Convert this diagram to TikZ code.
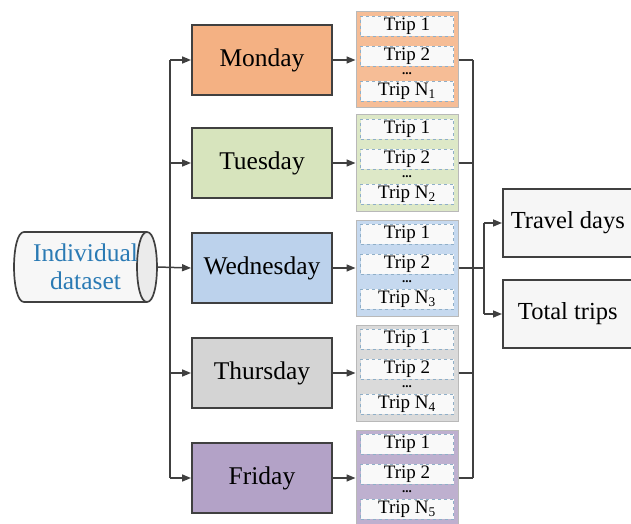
\documentclass[tikz,border=0pt]{standalone}
\usepackage{fontspec}
\setmainfont{Liberation Serif}
\usetikzlibrary{arrows.meta}
\definecolor{lineC}{HTML}{404040}
\definecolor{monC}{HTML}{F4B183}
\definecolor{tueC}{HTML}{D7E4BD}
\definecolor{wedC}{HTML}{BCD2EC}
\definecolor{thuC}{HTML}{D4D4D4}
\definecolor{friC}{HTML}{B3A2C7}
\definecolor{dashC}{HTML}{8FAFC8}
\definecolor{cylText}{HTML}{2A7AB4}
\tikzset{
  conn/.style={draw=lineC, line width=1.5pt},
  arr/.style={conn, -{Triangle[length=9pt,width=7pt]}},
  daybox/.style={draw=lineC, line width=1.9pt, minimum width=140pt, minimum height=70pt,
    font=\fontsize{25.5}{28}\selectfont, inner sep=0pt},
  panel/.style={draw=gray!55, line width=1pt, minimum width=102pt, minimum height=96pt, inner sep=0pt},
  tripbox/.style={draw=dashC, dashed, line width=0.9pt, fill=white!95!gray, minimum width=93pt,
    minimum height=20pt, inner sep=0pt, font=\fontsize{19}{20}\selectfont},
  dots/.style={font=\fontsize{13}{13}\selectfont\bfseries, inner sep=0pt},
  outbox/.style={draw=lineC, line width=1.6pt, fill=gray!7, minimum width=130pt, minimum height=68pt,
    inner sep=0pt, font=\fontsize{24.5}{27}\selectfont, anchor=west},
}
\begin{document}
\begin{tikzpicture}[x=1pt,y=-1pt]
\useasboundingbox (0,0) rectangle (631,524);
\clip (0,0) rectangle (631,524);
% source cylinder
\fill[gray!6] (24,232) -- (147,232) .. controls (160.3,232) and (160.3,302) .. (147,302)
   -- (24,302) .. controls (10.7,302) and (10.7,232) .. (24,232) -- cycle;
\fill[gray!16] (147,232) .. controls (160.3,232) and (160.3,302) .. (147,302)
   .. controls (133.7,302) and (133.7,232) .. (147,232) -- cycle;
\draw[lineC, line width=1.7pt, line join=round] (24,232) -- (147,232) .. controls (160.3,232) and (160.3,302) .. (147,302)
   -- (24,302) .. controls (10.7,302) and (10.7,232) .. (24,232) -- cycle;
\draw[lineC, line width=1.7pt] (147,232) .. controls (133.7,232) and (133.7,302) .. (147,302);
\node[minimum width=143pt, minimum height=70pt, inner sep=0pt, text=cylText,
  align=center, font=\fontsize{25.5}{28}\selectfont] (cyl) at (85.5,267) {Individual\\dataset};
% day boxes
\node[daybox, fill=monC] (mon) at (262,60) {Monday};
\node[daybox, fill=tueC] (tue) at (262,163) {Tuesday};
\node[daybox, fill=wedC] (wed) at (262,268) {Wednesday};
\node[daybox, fill=thuC] (thu) at (262,373) {Thursday};
\node[daybox, fill=friC] (fri) at (262,478) {Friday};
% panels
\foreach \d/\c/\y/\n in {mon/monC/60/1, tue/tueC/163/2, wed/wedC/268/3, thu/thuC/373/4, fri/friC/478/5}{
  \node[panel, fill=\c!85!white] (p\d) at (407,\y) {};
  \node[tripbox] (t1\d) at (407,\y-34) {Trip 1};
  \node[tripbox] (t2\d) at (407,\y-4) {Trip 2};
  \node[dots] (dt\d) at (407,\y+14) {...};
  \node[tripbox] (tn\d) at (407,\y+31) {Trip N\textsubscript{\n}};
}
% outputs
\node[outbox] (travel) at (502,223) {Travel days};
\node[outbox] (total) at (502,314) {Total trips};
% left bus
\coordinate (bx) at (170,0);
\draw[conn] (bx |- mon.west) -- (bx |- fri.west);
\draw[arr] (cyl.east) -- (wed.west);
\foreach \d in {mon,tue,thu,fri}{
  \draw[arr] (bx |- \d.west) -- (\d.west);
}
\foreach \d in {mon,tue,wed,thu,fri}{
  \draw[arr] (\d.east) -- (p\d.west);
}
% right bus
\coordinate (rx) at (473,0);
\foreach \d in {mon,tue,wed,thu,fri}{
  \draw[conn] (p\d.east) -- (rx |- p\d.east);
}
\draw[conn] (rx |- pmon.east) -- (rx |- pfri.east);
\coordinate (sx) at (484,0);
\draw[conn] (rx |- pwed.east) -- (sx |- pwed.east);
\draw[conn] (sx |- travel.west) -- (sx |- total.west);
\draw[arr] (sx |- travel.west) -- (travel.west);
\draw[arr] (sx |- total.west) -- (total.west);
\end{tikzpicture}
\end{document}
